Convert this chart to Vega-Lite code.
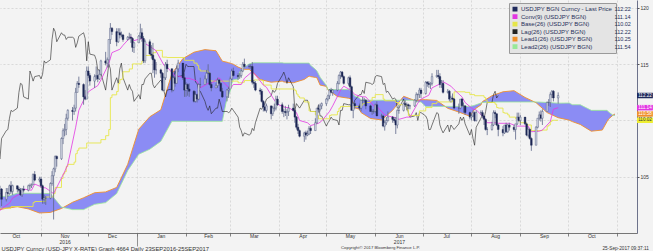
{
"$schema": "https://vega.github.io/schema/vega-lite/v6.json",
"width": 637, "height": 233,
"autosize": {"type": "none"},
"padding": {"left": 0, "top": 0, "right": 16, "bottom": 18},
"background": "#f3f3f3",
"config": {"view": {"stroke": null, "fill": "#f3f3f3"}, "font": "Liberation Sans"},
"title": {"text": "Copyright\u00a9 2017 Bloomberg Finance L.P.", "orient": "bottom", "anchor": "start", "dx": 341, "offset": -5, "fontSize": 4.3, "fontWeight": "normal", "color": "#333333"},
"resolve": {"axis": {"x": "independent"}},
"datasets": {
"px": [
{"d":"2016-10-03","o":101.3,"h":101.9,"l":101.2,"c":101.7,"lg":105.1},
{"d":"2016-10-04","o":101.7,"h":102.9,"l":101.6,"c":102.9,"lg":105.7},
{"d":"2016-10-05","o":102.9,"h":103.6,"l":102.7,"c":103.5,"lg":106.8},
{"d":"2016-10-06","o":103.5,"h":104.2,"l":103.3,"c":103.9,"lg":106.6},
{"d":"2016-10-07","o":103.9,"h":104.0,"l":102.4,"c":103.0,"lg":108.4},
{"d":"2016-10-10","o":103.0,"h":104.0,"l":102.8,"c":103.6,"lg":109.1},
{"d":"2016-10-11","o":103.6,"h":104.0,"l":103.2,"c":103.5,"lg":109.2},
{"d":"2016-10-12","o":103.5,"h":104.3,"l":103.4,"c":104.2,"lg":110.2},
{"d":"2016-10-13","o":104.2,"h":104.6,"l":103.5,"c":103.7,"lg":110.9},
{"d":"2016-10-14","o":103.7,"h":104.3,"l":103.4,"c":104.2,"lg":110.8},
{"d":"2016-10-17","o":104.2,"h":104.2,"l":103.6,"c":103.9,"lg":111.1},
{"d":"2016-10-18","o":103.9,"h":104.1,"l":103.6,"c":103.8,"lg":112.5},
{"d":"2016-10-19","o":103.8,"h":104.0,"l":103.3,"c":103.4,"lg":113.3},
{"d":"2016-10-20","o":103.4,"h":104.0,"l":103.2,"c":103.9,"lg":113.2},
{"d":"2016-10-21","o":103.9,"h":104.2,"l":103.6,"c":103.8,"lg":112.1},
{"d":"2016-10-24","o":103.8,"h":104.3,"l":103.7,"c":104.2,"lg":111.9},
{"d":"2016-10-25","o":104.2,"h":104.4,"l":103.9,"c":104.2,"lg":114.4},
{"d":"2016-10-26","o":104.2,"h":104.4,"l":104.0,"c":104.3,"lg":114.0},
{"d":"2016-10-27","o":104.3,"h":105.3,"l":104.3,"c":105.2,"lg":113.5},
{"d":"2016-10-28","o":105.2,"h":105.5,"l":104.6,"c":104.7,"lg":113.9},
{"d":"2016-10-31","o":104.7,"h":105.0,"l":104.5,"c":104.8,"lg":114.0},
{"d":"2016-11-01","o":104.8,"h":105.0,"l":104.0,"c":104.2,"lg":113.7},
{"d":"2016-11-02","o":104.2,"h":104.3,"l":102.6,"c":103.0,"lg":114.1},
{"d":"2016-11-03","o":103.0,"h":103.4,"l":102.6,"c":103.1,"lg":115.3},
{"d":"2016-11-04","o":103.1,"h":103.3,"l":102.5,"c":103.1,"lg":115.1},
{"d":"2016-11-07","o":103.1,"h":104.5,"l":103.0,"c":104.4,"lg":115.4},
{"d":"2016-11-08","o":104.4,"h":105.5,"l":104.2,"c":105.1,"lg":117.2},
{"d":"2016-11-09","o":105.1,"h":105.8,"l":101.2,"c":105.7,"lg":118.2},
{"d":"2016-11-10","o":105.7,"h":106.9,"l":105.4,"c":106.8,"lg":117.9},
{"d":"2016-11-11","o":106.8,"h":106.9,"l":105.9,"c":106.6,"lg":117.0},
{"d":"2016-11-14","o":106.6,"h":108.5,"l":106.5,"c":108.4,"lg":117.8},
{"d":"2016-11-15","o":108.4,"h":109.3,"l":107.9,"c":109.1,"lg":117.6},
{"d":"2016-11-16","o":109.1,"h":109.7,"l":108.6,"c":109.2,"lg":117.6},
{"d":"2016-11-17","o":109.2,"h":110.6,"l":108.7,"c":110.2,"lg":117.2},
{"d":"2016-11-18","o":110.2,"h":111.0,"l":110.0,"c":110.9,"lg":117.4},
{"d":"2016-11-21","o":110.9,"h":111.2,"l":110.0,"c":110.8,"lg":117.4},
{"d":"2016-11-22","o":110.8,"h":111.4,"l":110.5,"c":111.1,"lg":117.3},
{"d":"2016-11-23","o":111.1,"h":112.9,"l":110.8,"c":112.5,"lg":116.5},
{"d":"2016-11-24","o":112.5,"h":113.5,"l":112.5,"c":113.3,"lg":116.9},
{"d":"2016-11-25","o":113.3,"h":113.9,"l":112.9,"c":113.2,"lg":117.5},
{"d":"2016-11-28","o":113.2,"h":113.3,"l":111.4,"c":112.1,"lg":117.8},
{"d":"2016-11-29","o":112.1,"h":112.7,"l":111.8,"c":111.9,"lg":117.3},
{"d":"2016-11-30","o":111.9,"h":114.8,"l":111.9,"c":114.4,"lg":115.3},
{"d":"2016-12-01","o":114.4,"h":114.8,"l":113.8,"c":114.0,"lg":117.0},
{"d":"2016-12-02","o":114.0,"h":114.2,"l":113.1,"c":113.5,"lg":115.9},
{"d":"2016-12-05","o":113.5,"h":114.1,"l":112.9,"c":113.9,"lg":115.8},
{"d":"2016-12-06","o":113.9,"h":114.8,"l":113.6,"c":114.0,"lg":115.4},
{"d":"2016-12-07","o":114.0,"h":114.5,"l":113.4,"c":113.7,"lg":114.5},
{"d":"2016-12-08","o":113.7,"h":114.5,"l":113.6,"c":114.1,"lg":114.5},
{"d":"2016-12-09","o":114.1,"h":115.4,"l":114.0,"c":115.3,"lg":114.2},
{"d":"2016-12-12","o":115.3,"h":116.1,"l":114.9,"c":115.1,"lg":112.7},
{"d":"2016-12-13","o":115.1,"h":115.6,"l":114.7,"c":115.4,"lg":113.8},
{"d":"2016-12-14","o":115.4,"h":117.2,"l":114.8,"c":117.2,"lg":115.0},
{"d":"2016-12-15","o":117.2,"h":118.66,"l":116.8,"c":118.2,"lg":114.6},
{"d":"2016-12-16","o":118.2,"h":118.3,"l":117.6,"c":117.9,"lg":112.7},
{"d":"2016-12-19","o":117.9,"h":118.2,"l":116.6,"c":117.0,"lg":113.8},
{"d":"2016-12-20","o":117.0,"h":118.2,"l":116.9,"c":117.8,"lg":113.3},
{"d":"2016-12-21","o":117.8,"h":118.2,"l":117.3,"c":117.6,"lg":114.6},
{"d":"2016-12-22","o":117.6,"h":117.9,"l":117.4,"c":117.6,"lg":115.1},
{"d":"2016-12-23","o":117.6,"h":117.7,"l":117.0,"c":117.2,"lg":113.8},
{"d":"2016-12-26","o":117.2,"h":117.5,"l":117.1,"c":117.4,"lg":112.7},
{"d":"2016-12-27","o":117.4,"h":117.8,"l":117.2,"c":117.4,"lg":113.2},
{"d":"2016-12-28","o":117.4,"h":117.7,"l":116.9,"c":117.3,"lg":112.8},
{"d":"2016-12-29","o":117.3,"h":117.4,"l":116.1,"c":116.5,"lg":112.6},
{"d":"2016-12-30","o":116.5,"h":117.0,"l":116.0,"c":116.9,"lg":111.7},
{"d":"2017-01-02","o":116.9,"h":117.6,"l":116.9,"c":117.5,"lg":112.3},
{"d":"2017-01-03","o":117.5,"h":118.6,"l":117.2,"c":117.8,"lg":111.9},
{"d":"2017-01-04","o":117.8,"h":118.2,"l":117.0,"c":117.3,"lg":113.2},
{"d":"2017-01-05","o":117.3,"h":117.5,"l":115.1,"c":115.3,"lg":113.2},
{"d":"2017-01-06","o":115.3,"h":117.2,"l":115.1,"c":117.0,"lg":113.7},
{"d":"2017-01-09","o":117.0,"h":117.2,"l":115.9,"c":115.9,"lg":114.2},
{"d":"2017-01-10","o":115.9,"h":116.7,"l":115.5,"c":115.8,"lg":114.2},
{"d":"2017-01-11","o":115.8,"h":116.9,"l":114.2,"c":115.4,"lg":113.2},
{"d":"2017-01-12","o":115.4,"h":115.5,"l":113.8,"c":114.5,"lg":112.9},
{"d":"2017-01-13","o":114.5,"h":115.2,"l":114.1,"c":114.5,"lg":113.1},
{"d":"2017-01-16","o":114.5,"h":114.6,"l":113.8,"c":114.2,"lg":113.6},
{"d":"2017-01-17","o":114.2,"h":114.3,"l":112.6,"c":112.7,"lg":113.3},
{"d":"2017-01-18","o":112.7,"h":113.9,"l":112.6,"c":113.8,"lg":112.6},
{"d":"2017-01-19","o":113.8,"h":115.2,"l":113.6,"c":115.0,"lg":112.1},
{"d":"2017-01-20","o":115.0,"h":115.4,"l":114.3,"c":114.6,"lg":112.7},
{"d":"2017-01-23","o":114.6,"h":114.6,"l":112.5,"c":112.7,"lg":112.8},
{"d":"2017-01-24","o":112.7,"h":113.9,"l":112.6,"c":113.8,"lg":113.7},
{"d":"2017-01-25","o":113.8,"h":114.0,"l":113.0,"c":113.3,"lg":114.4},
{"d":"2017-01-26","o":113.3,"h":114.9,"l":113.3,"c":114.6,"lg":114.0},
{"d":"2017-01-27","o":114.6,"h":115.4,"l":114.3,"c":115.1,"lg":113.9},
{"d":"2017-01-30","o":115.1,"h":115.1,"l":113.6,"c":113.8,"lg":114.0},
{"d":"2017-01-31","o":113.8,"h":114.2,"l":112.1,"c":112.7,"lg":114.4},
{"d":"2017-02-01","o":112.7,"h":113.4,"l":112.1,"c":113.2,"lg":115.0},
{"d":"2017-02-02","o":113.2,"h":113.3,"l":112.2,"c":112.8,"lg":114.8},
{"d":"2017-02-03","o":112.8,"h":113.3,"l":112.1,"c":112.6,"lg":114.8},
{"d":"2017-02-06","o":112.6,"h":112.7,"l":111.6,"c":111.7,"lg":114.8},
{"d":"2017-02-07","o":111.7,"h":112.6,"l":111.6,"c":112.3,"lg":113.4},
{"d":"2017-02-08","o":112.3,"h":112.4,"l":111.6,"c":111.9,"lg":113.3},
{"d":"2017-02-09","o":111.9,"h":113.3,"l":111.8,"c":113.2,"lg":112.7},
{"d":"2017-02-10","o":113.2,"h":113.8,"l":112.9,"c":113.2,"lg":112.6},
{"d":"2017-02-13","o":113.2,"h":114.0,"l":113.2,"c":113.7,"lg":111.7},
{"d":"2017-02-14","o":113.7,"h":114.5,"l":113.3,"c":114.2,"lg":111.2},
{"d":"2017-02-15","o":114.2,"h":115.0,"l":114.1,"c":114.2,"lg":110.9},
{"d":"2017-02-16","o":114.2,"h":114.3,"l":113.1,"c":113.2,"lg":111.3},
{"d":"2017-02-17","o":113.2,"h":113.4,"l":112.6,"c":112.9,"lg":110.6},
{"d":"2017-02-20","o":112.9,"h":113.3,"l":112.9,"c":113.1,"lg":111.1},
{"d":"2017-02-21","o":113.1,"h":113.8,"l":112.9,"c":113.6,"lg":111.1},
{"d":"2017-02-22","o":113.6,"h":113.7,"l":113.1,"c":113.3,"lg":111.9},
{"d":"2017-02-23","o":113.3,"h":113.4,"l":112.6,"c":112.6,"lg":111.4},
{"d":"2017-02-24","o":112.6,"h":112.9,"l":112.0,"c":112.1,"lg":110.8},
{"d":"2017-02-27","o":112.1,"h":112.8,"l":111.7,"c":112.7,"lg":110.8},
{"d":"2017-02-28","o":112.7,"h":113.0,"l":112.0,"c":112.8,"lg":110.7},
{"d":"2017-03-01","o":112.8,"h":113.9,"l":112.8,"c":113.7,"lg":110.8},
{"d":"2017-03-02","o":113.7,"h":114.6,"l":113.6,"c":114.4,"lg":111.1},
{"d":"2017-03-03","o":114.4,"h":114.7,"l":113.9,"c":114.0,"lg":110.9},
{"d":"2017-03-06","o":114.0,"h":114.2,"l":113.6,"c":113.9,"lg":110.3},
{"d":"2017-03-07","o":113.9,"h":114.2,"l":113.7,"c":114.0,"lg":109.4},
{"d":"2017-03-08","o":114.0,"h":114.5,"l":113.8,"c":114.4,"lg":109.1},
{"d":"2017-03-09","o":114.4,"h":115.2,"l":114.3,"c":115.0,"lg":108.6},
{"d":"2017-03-10","o":115.0,"h":115.5,"l":114.7,"c":114.8,"lg":108.9},
{"d":"2017-03-13","o":114.8,"h":115.0,"l":114.6,"c":114.8,"lg":108.7},
{"d":"2017-03-14","o":114.8,"h":115.0,"l":114.6,"c":114.8,"lg":108.8},
{"d":"2017-03-15","o":114.8,"h":115.2,"l":113.2,"c":113.4,"lg":109.3},
{"d":"2017-03-16","o":113.4,"h":113.6,"l":112.9,"c":113.3,"lg":109.1},
{"d":"2017-03-17","o":113.3,"h":113.5,"l":112.6,"c":112.7,"lg":109.8},
{"d":"2017-03-20","o":112.7,"h":112.9,"l":112.3,"c":112.6,"lg":111.1},
{"d":"2017-03-21","o":112.6,"h":112.8,"l":111.6,"c":111.7,"lg":111.0},
{"d":"2017-03-22","o":111.7,"h":111.8,"l":110.8,"c":111.2,"lg":111.3},
{"d":"2017-03-23","o":111.2,"h":111.6,"l":110.8,"c":110.9,"lg":111.5},
{"d":"2017-03-24","o":110.9,"h":111.5,"l":110.7,"c":111.3,"lg":111.9},
{"d":"2017-03-27","o":111.3,"h":111.3,"l":110.1,"c":110.6,"lg":112.2},
{"d":"2017-03-28","o":110.6,"h":111.3,"l":110.4,"c":111.1,"lg":112.7},
{"d":"2017-03-29","o":111.1,"h":111.5,"l":110.8,"c":111.1,"lg":112.5},
{"d":"2017-03-30","o":111.1,"h":112.2,"l":110.9,"c":111.9,"lg":112.7},
{"d":"2017-03-31","o":111.9,"h":112.2,"l":111.3,"c":111.4,"lg":113.3},
{"d":"2017-04-03","o":111.4,"h":111.6,"l":110.6,"c":110.8,"lg":114.0},
{"d":"2017-04-04","o":110.8,"h":111.0,"l":110.3,"c":110.8,"lg":114.3},
{"d":"2017-04-05","o":110.8,"h":111.3,"l":110.4,"c":110.7,"lg":113.9},
{"d":"2017-04-06","o":110.7,"h":111.0,"l":110.1,"c":110.8,"lg":113.3},
{"d":"2017-04-07","o":110.8,"h":111.4,"l":110.4,"c":111.1,"lg":113.8},
{"d":"2017-04-10","o":111.1,"h":111.5,"l":110.8,"c":110.9,"lg":113.0},
{"d":"2017-04-11","o":110.9,"h":111.0,"l":109.8,"c":110.3,"lg":110.9},
{"d":"2017-04-12","o":110.3,"h":110.4,"l":109.2,"c":109.4,"lg":111.5},
{"d":"2017-04-13","o":109.4,"h":109.7,"l":108.8,"c":109.1,"lg":111.3},
{"d":"2017-04-14","o":109.1,"h":109.2,"l":108.5,"c":108.6,"lg":111.1},
{"d":"2017-04-17","o":108.6,"h":109.0,"l":108.1,"c":108.9,"lg":111.8},
{"d":"2017-04-18","o":108.9,"h":109.1,"l":108.3,"c":108.7,"lg":111.8},
{"d":"2017-04-19","o":108.7,"h":109.1,"l":108.6,"c":108.8,"lg":111.8},
{"d":"2017-04-20","o":108.8,"h":109.5,"l":108.7,"c":109.3,"lg":111.3},
{"d":"2017-04-21","o":109.3,"h":109.5,"l":108.8,"c":109.1,"lg":110.8},
{"d":"2017-04-24","o":109.1,"h":110.2,"l":109.1,"c":109.8,"lg":110.8},
{"d":"2017-04-25","o":109.8,"h":111.1,"l":109.7,"c":111.1,"lg":110.8},
{"d":"2017-04-26","o":111.1,"h":111.4,"l":110.7,"c":111.0,"lg":111.4},
{"d":"2017-04-27","o":111.0,"h":111.5,"l":110.8,"c":111.3,"lg":110.4},
{"d":"2017-04-28","o":111.3,"h":111.6,"l":111.0,"c":111.5,"lg":110.4},
{"d":"2017-05-01","o":111.5,"h":112.0,"l":111.3,"c":111.9,"lg":109.5},
{"d":"2017-05-02","o":111.9,"h":112.3,"l":111.7,"c":112.2,"lg":109.8},
{"d":"2017-05-03","o":112.2,"h":112.8,"l":111.9,"c":112.7,"lg":110.0},
{"d":"2017-05-04","o":112.7,"h":112.9,"l":112.4,"c":112.5,"lg":110.3},
{"d":"2017-05-05","o":112.5,"h":112.8,"l":112.2,"c":112.7,"lg":110.1},
{"d":"2017-05-08","o":112.7,"h":113.5,"l":112.6,"c":113.3,"lg":110.0},
{"d":"2017-05-09","o":113.3,"h":114.1,"l":113.2,"c":114.0,"lg":109.6},
{"d":"2017-05-10","o":114.0,"h":114.4,"l":113.7,"c":114.3,"lg":110.9},
{"d":"2017-05-11","o":114.3,"h":114.4,"l":113.8,"c":113.9,"lg":110.9},
{"d":"2017-05-12","o":113.9,"h":114.0,"l":113.2,"c":113.3,"lg":111.5},
{"d":"2017-05-15","o":113.3,"h":113.9,"l":113.1,"c":113.8,"lg":111.4},
{"d":"2017-05-16","o":113.8,"h":114.0,"l":112.8,"c":113.0,"lg":111.4},
{"d":"2017-05-17","o":113.0,"h":113.1,"l":110.9,"c":110.9,"lg":111.3},
{"d":"2017-05-18","o":110.9,"h":111.6,"l":110.2,"c":111.5,"lg":111.3},
{"d":"2017-05-19","o":111.5,"h":111.7,"l":111.0,"c":111.3,"lg":111.8},
{"d":"2017-05-22","o":111.3,"h":111.5,"l":110.9,"c":111.1,"lg":112.3},
{"d":"2017-05-23","o":111.1,"h":111.8,"l":110.8,"c":111.8,"lg":112.3},
{"d":"2017-05-24","o":111.8,"h":112.1,"l":111.5,"c":111.8,"lg":112.7},
{"d":"2017-05-25","o":111.8,"h":112.0,"l":111.6,"c":111.8,"lg":112.4},
{"d":"2017-05-26","o":111.8,"h":111.9,"l":111.0,"c":111.3,"lg":113.4},
{"d":"2017-05-29","o":111.3,"h":111.4,"l":110.8,"c":110.8,"lg":113.3},
{"d":"2017-05-30","o":110.8,"h":111.0,"l":110.5,"c":110.8,"lg":113.2},
{"d":"2017-05-31","o":110.8,"h":111.0,"l":110.6,"c":110.8,"lg":113.3},
{"d":"2017-06-01","o":110.8,"h":111.5,"l":110.7,"c":111.4,"lg":113.9},
{"d":"2017-06-02","o":111.4,"h":111.7,"l":110.4,"c":110.4,"lg":114.0},
{"d":"2017-06-05","o":110.4,"h":110.6,"l":110.2,"c":110.4,"lg":113.9},
{"d":"2017-06-06","o":110.4,"h":110.5,"l":109.4,"c":109.5,"lg":113.2},
{"d":"2017-06-07","o":109.5,"h":110.0,"l":109.1,"c":109.8,"lg":113.3},
{"d":"2017-06-08","o":109.8,"h":110.3,"l":109.6,"c":110.0,"lg":112.5},
{"d":"2017-06-09","o":110.0,"h":110.8,"l":109.9,"c":110.3,"lg":112.6},
{"d":"2017-06-12","o":110.3,"h":110.4,"l":109.8,"c":110.1,"lg":111.9},
{"d":"2017-06-13","o":110.1,"h":110.3,"l":109.8,"c":110.0,"lg":112.0},
{"d":"2017-06-14","o":110.0,"h":110.3,"l":108.8,"c":109.6,"lg":111.9},
{"d":"2017-06-15","o":109.6,"h":111.0,"l":109.3,"c":110.9,"lg":111.1},
{"d":"2017-06-16","o":110.9,"h":111.4,"l":110.6,"c":110.9,"lg":111.1},
{"d":"2017-06-19","o":110.9,"h":111.6,"l":110.8,"c":111.5,"lg":111.9},
{"d":"2017-06-20","o":111.5,"h":111.8,"l":111.2,"c":111.4,"lg":111.3},
{"d":"2017-06-21","o":111.4,"h":111.6,"l":110.9,"c":111.4,"lg":111.3},
{"d":"2017-06-22","o":111.4,"h":111.5,"l":111.0,"c":111.3,"lg":110.7},
{"d":"2017-06-23","o":111.3,"h":111.4,"l":111.0,"c":111.3,"lg":110.3},
{"d":"2017-06-26","o":111.3,"h":111.9,"l":111.2,"c":111.8,"lg":110.4},
{"d":"2017-06-27","o":111.8,"h":112.5,"l":111.6,"c":112.3,"lg":110.7},
{"d":"2017-06-28","o":112.3,"h":112.4,"l":111.8,"c":112.3,"lg":110.0},
{"d":"2017-06-29","o":112.3,"h":112.9,"l":112.0,"c":112.7,"lg":110.7},
{"d":"2017-06-30","o":112.7,"h":112.9,"l":112.0,"c":112.4,"lg":110.7},
{"d":"2017-07-03","o":112.4,"h":113.5,"l":112.3,"c":113.4,"lg":110.4},
{"d":"2017-07-04","o":113.4,"h":113.5,"l":113.0,"c":113.3,"lg":110.1},
{"d":"2017-07-05","o":113.3,"h":113.5,"l":112.9,"c":113.2,"lg":109.2},
{"d":"2017-07-06","o":113.2,"h":113.4,"l":112.8,"c":113.3,"lg":109.2},
{"d":"2017-07-07","o":113.3,"h":114.2,"l":113.1,"c":113.9,"lg":109.6},
{"d":"2017-07-10","o":113.9,"h":114.5,"l":113.8,"c":114.0,"lg":110.7},
{"d":"2017-07-11","o":114.0,"h":114.5,"l":113.7,"c":113.9,"lg":110.6},
{"d":"2017-07-12","o":113.9,"h":114.2,"l":112.9,"c":113.2,"lg":109.6},
{"d":"2017-07-13","o":113.2,"h":113.6,"l":112.9,"c":113.3,"lg":109.2},
{"d":"2017-07-14","o":113.3,"h":113.6,"l":112.4,"c":112.5,"lg":108.9},
{"d":"2017-07-17","o":112.5,"h":112.8,"l":112.4,"c":112.6,"lg":109.6},
{"d":"2017-07-18","o":112.6,"h":112.7,"l":111.7,"c":111.9,"lg":109.0},
{"d":"2017-07-19","o":111.9,"h":112.2,"l":111.6,"c":112.0,"lg":109.6},
{"d":"2017-07-20","o":112.0,"h":112.4,"l":111.8,"c":111.9,"lg":109.4},
{"d":"2017-07-21","o":111.9,"h":112.0,"l":111.0,"c":111.1,"lg":109.2},
{"d":"2017-07-24","o":111.1,"h":111.5,"l":110.6,"c":111.1,"lg":109.7},
{"d":"2017-07-25","o":111.1,"h":111.9,"l":111.0,"c":111.9,"lg":110.3},
{"d":"2017-07-26","o":111.9,"h":112.0,"l":111.2,"c":111.3,"lg":110.0},
{"d":"2017-07-27","o":111.3,"h":111.6,"l":110.7,"c":111.3,"lg":110.3},
{"d":"2017-07-28","o":111.3,"h":111.3,"l":110.5,"c":110.7,"lg":109.7},
{"d":"2017-07-31","o":110.7,"h":110.8,"l":110.1,"c":110.3,"lg":108.7},
{"d":"2017-08-01","o":110.3,"h":110.6,"l":110.0,"c":110.4,"lg":109.2},
{"d":"2017-08-02","o":110.4,"h":110.9,"l":110.3,"c":110.7,"lg":108.4},
{"d":"2017-08-03","o":110.7,"h":110.8,"l":109.9,"c":110.0,"lg":107.8},
{"d":"2017-08-04","o":110.0,"h":110.9,"l":109.9,"c":110.7,"lg":109.4},
{"d":"2017-08-07","o":110.7,"h":110.9,"l":110.5,"c":110.7,"lg":110.2},
{"d":"2017-08-08","o":110.7,"h":110.9,"l":110.2,"c":110.4,"lg":110.5},
{"d":"2017-08-09","o":110.4,"h":110.4,"l":109.6,"c":110.1,"lg":110.2},
{"d":"2017-08-10","o":110.1,"h":110.2,"l":109.1,"c":109.2,"lg":110.8},
{"d":"2017-08-11","o":109.2,"h":109.4,"l":108.7,"c":109.2,"lg":111.6},
{"d":"2017-08-14","o":109.2,"h":109.9,"l":109.1,"c":109.6,"lg":111.6},
{"d":"2017-08-15","o":109.6,"h":110.9,"l":109.5,"c":110.7,"lg":112.3},
{"d":"2017-08-16","o":110.7,"h":110.9,"l":110.2,"c":110.6,"lg":112.6},
{"d":"2017-08-17","o":110.6,"h":110.6,"l":109.5,"c":109.6,"lg":112.0},
{"d":"2017-08-18","o":109.6,"h":109.7,"l":108.6,"c":109.2,"lg":112.22},
{"d":"2017-08-21","o":109.2,"h":109.5,"l":108.6,"c":108.9},
{"d":"2017-08-22","o":108.9,"h":109.6,"l":108.8,"c":109.6},
{"d":"2017-08-23","o":109.6,"h":109.8,"l":108.9,"c":109.0},
{"d":"2017-08-24","o":109.0,"h":109.7,"l":108.9,"c":109.6},
{"d":"2017-08-25","o":109.6,"h":109.8,"l":109.1,"c":109.4},
{"d":"2017-08-28","o":109.4,"h":109.6,"l":109.0,"c":109.2},
{"d":"2017-08-29","o":109.2,"h":109.7,"l":108.3,"c":109.7},
{"d":"2017-08-30","o":109.7,"h":110.7,"l":109.6,"c":110.3},
{"d":"2017-08-31","o":110.3,"h":110.7,"l":109.9,"c":110.0},
{"d":"2017-09-01","o":110.0,"h":110.5,"l":109.6,"c":110.3},
{"d":"2017-09-04","o":110.3,"h":110.3,"l":109.6,"c":109.7},
{"d":"2017-09-05","o":109.7,"h":109.8,"l":108.6,"c":108.7},
{"d":"2017-09-06","o":108.7,"h":109.4,"l":108.5,"c":109.2},
{"d":"2017-09-07","o":109.2,"h":109.3,"l":108.3,"c":108.4},
{"d":"2017-09-08","o":108.4,"h":108.5,"l":107.3,"c":107.8},
{"d":"2017-09-11","o":107.8,"h":109.5,"l":107.8,"c":109.4},
{"d":"2017-09-12","o":109.4,"h":110.2,"l":109.3,"c":110.2},
{"d":"2017-09-13","o":110.2,"h":110.8,"l":110.0,"c":110.5},
{"d":"2017-09-14","o":110.5,"h":110.9,"l":109.9,"c":110.2},
{"d":"2017-09-15","o":110.2,"h":111.0,"l":109.6,"c":110.8},
{"d":"2017-09-18","o":110.8,"h":111.7,"l":110.8,"c":111.6},
{"d":"2017-09-19","o":111.6,"h":111.9,"l":111.3,"c":111.6},
{"d":"2017-09-20","o":111.6,"h":112.5,"l":111.2,"c":112.3},
{"d":"2017-09-21","o":112.3,"h":112.7,"l":112.0,"c":112.6},
{"d":"2017-09-22","o":112.6,"h":112.7,"l":111.7,"c":112.0},
{"d":"2017-09-25","o":112.0,"h":112.5,"l":111.5,"c":112.22}
],
"conv": [
{"d":"2016-10-05","v":101.85},{"d":"2016-10-07","v":102.15},{"d":"2016-10-12","v":102.65},{"d":"2016-10-14","v":103.1},
{"d":"2016-10-19","v":103.5},{"d":"2016-10-21","v":103.9},{"d":"2016-10-26","v":103.8},{"d":"2016-10-28","v":104.35},
{"d":"2016-11-02","v":104.05},{"d":"2016-11-04","v":104.0},{"d":"2016-11-09","v":103.5},{"d":"2016-11-11","v":104.05},
{"d":"2016-11-16","v":105.45},{"d":"2016-11-18","v":106.1},{"d":"2016-11-23","v":109.4},{"d":"2016-11-25","v":110.9},
{"d":"2016-11-30","v":112.4},{"d":"2016-12-02","v":112.65},{"d":"2016-12-07","v":113.1},{"d":"2016-12-09","v":113.6},
{"d":"2016-12-14","v":115.05},{"d":"2016-12-16","v":116.03},{"d":"2016-12-21","v":116.33},{"d":"2016-12-23","v":116.68},
{"d":"2016-12-28","v":117.45},{"d":"2016-12-30","v":117.1},{"d":"2017-01-04","v":117.3},{"d":"2017-01-06","v":116.85},
{"d":"2017-01-11","v":116.4},{"d":"2017-01-13","v":116.2},{"d":"2017-01-18","v":114.9},{"d":"2017-01-20","v":114.75},
{"d":"2017-01-25","v":113.95},{"d":"2017-01-27","v":113.95},{"d":"2017-02-01","v":113.75},{"d":"2017-02-03","v":113.75},
{"d":"2017-02-08","v":113.5},{"d":"2017-02-10","v":112.9},{"d":"2017-02-15","v":113.3},{"d":"2017-02-17","v":113.3},
{"d":"2017-02-22","v":113.8},{"d":"2017-02-24","v":113.5},{"d":"2017-03-01","v":112.8},{"d":"2017-03-03","v":113.2},
{"d":"2017-03-08","v":113.2},{"d":"2017-03-10","v":113.75},{"d":"2017-03-15","v":114.35},{"d":"2017-03-17","v":114.05},
{"d":"2017-03-22","v":113.15},{"d":"2017-03-24","v":112.95},{"d":"2017-03-29","v":111.8},{"d":"2017-03-31","v":111.45},
{"d":"2017-04-05","v":111.15},{"d":"2017-04-07","v":111.15},{"d":"2017-04-12","v":110.7},{"d":"2017-04-14","v":110.0},
{"d":"2017-04-19","v":109.8},{"d":"2017-04-21","v":109.55},{"d":"2017-04-26","v":109.75},{"d":"2017-04-28","v":109.95},
{"d":"2017-05-03","v":110.8},{"d":"2017-05-05","v":111.3},{"d":"2017-05-10","v":112.7},{"d":"2017-05-12","v":113.05},
{"d":"2017-05-17","v":112.65},{"d":"2017-05-19","v":112.3},{"d":"2017-05-24","v":112.1},{"d":"2017-05-26","v":112.1},
{"d":"2017-05-31","v":111.3},{"d":"2017-06-02","v":111.25},{"d":"2017-06-07","v":110.5},{"d":"2017-06-09","v":110.4},
{"d":"2017-06-14","v":110.25},{"d":"2017-06-16","v":110.1},{"d":"2017-06-21","v":110.3},{"d":"2017-06-23","v":110.3},
{"d":"2017-06-28","v":111.55},{"d":"2017-06-30","v":111.9},{"d":"2017-07-05","v":112.25},{"d":"2017-07-07","v":112.9},
{"d":"2017-07-12","v":113.25},{"d":"2017-07-14","v":113.45},{"d":"2017-07-19","v":113.05},{"d":"2017-07-21","v":112.75},
{"d":"2017-07-26","v":112.1},{"d":"2017-07-28","v":111.6},{"d":"2017-08-02","v":111.0},{"d":"2017-08-04","v":110.95},
{"d":"2017-08-09","v":110.25},{"d":"2017-08-11","v":109.8},{"d":"2017-08-16","v":109.8},{"d":"2017-08-18","v":109.75},
{"d":"2017-08-23","v":109.75},{"d":"2017-08-25","v":109.75},{"d":"2017-08-30","v":109.5},{"d":"2017-09-01","v":109.5},
{"d":"2017-09-06","v":109.5},{"d":"2017-09-08","v":109.0},{"d":"2017-09-13","v":109.05},{"d":"2017-09-15","v":109.15},
{"d":"2017-09-20","v":109.9},{"d":"2017-09-22","v":111.0},{"d":"2017-09-25","v":111.14}
],
"base": [
{"d":"2016-10-03","v":102.2},{"d":"2016-10-13","v":102.35},{"d":"2016-10-27","v":102.7},{"d":"2016-10-28","v":102.8},
{"d":"2016-11-04","v":103.2},{"d":"2016-11-09","v":103.5},{"d":"2016-11-10","v":104.05},{"d":"2016-11-14","v":104.85},
{"d":"2016-11-15","v":105.25},{"d":"2016-11-16","v":105.45},{"d":"2016-11-17","v":105.9},{"d":"2016-11-18","v":106.1},
{"d":"2016-11-22","v":106.3},{"d":"2016-11-23","v":107.05},{"d":"2016-11-24","v":107.35},{"d":"2016-11-25","v":107.55},
{"d":"2016-11-30","v":108.0},{"d":"2016-12-09","v":108.3},{"d":"2016-12-12","v":108.65},{"d":"2016-12-14","v":109.2},
{"d":"2016-12-15","v":112.03},{"d":"2016-12-16","v":112.28},{"d":"2016-12-19","v":112.58},{"d":"2016-12-20","v":113.28},
{"d":"2016-12-21","v":113.63},{"d":"2016-12-22","v":113.68},{"d":"2016-12-23","v":114.33},{"d":"2016-12-27","v":114.58},
{"d":"2016-12-29","v":115.03},{"d":"2017-01-04","v":115.28},{"d":"2017-01-05","v":115.78},{"d":"2017-01-11","v":116.03},
{"d":"2017-01-13","v":116.23},{"d":"2017-01-17","v":115.63},{"d":"2017-01-20","v":115.6},{"d":"2017-01-31","v":115.35},
{"d":"2017-02-06","v":115.1},{"d":"2017-02-08","v":114.9},{"d":"2017-02-09","v":114.55},{"d":"2017-02-10","v":114.4},
{"d":"2017-02-15","v":114.25},{"d":"2017-02-16","v":113.55},{"d":"2017-02-17","v":113.5},{"d":"2017-03-06","v":113.35},
{"d":"2017-03-09","v":113.4},{"d":"2017-03-10","v":113.55},{"d":"2017-03-16","v":113.6},{"d":"2017-03-21","v":113.55},
{"d":"2017-03-22","v":113.15},{"d":"2017-03-27","v":112.8},{"d":"2017-04-11","v":112.65},{"d":"2017-04-12","v":112.35},
{"d":"2017-04-13","v":112.15},{"d":"2017-04-14","v":112.0},{"d":"2017-04-17","v":111.65},{"d":"2017-04-20","v":110.85},
{"d":"2017-04-21","v":110.8},{"d":"2017-04-24","v":110.5},{"d":"2017-04-25","v":110.45},{"d":"2017-04-26","v":110.15},
{"d":"2017-05-03","v":110.45},{"d":"2017-05-04","v":110.5},{"d":"2017-05-08","v":110.8},{"d":"2017-05-09","v":111.1},
{"d":"2017-05-10","v":111.25},{"d":"2017-05-23","v":111.35},{"d":"2017-05-24","v":111.5},{"d":"2017-05-25","v":111.55},
{"d":"2017-05-26","v":111.6},{"d":"2017-05-29","v":111.75},{"d":"2017-05-30","v":112.05},{"d":"2017-06-01","v":112.3},
{"d":"2017-06-06","v":111.9},{"d":"2017-06-07","v":111.75},{"d":"2017-06-14","v":111.6},{"d":"2017-06-16","v":111.4},
{"d":"2017-06-21","v":110.95},{"d":"2017-06-22","v":110.45},{"d":"2017-06-29","v":110.85},{"d":"2017-07-03","v":111.15},
{"d":"2017-07-07","v":111.5},{"d":"2017-07-10","v":111.65},{"d":"2017-07-20","v":111.9},{"d":"2017-07-21","v":112.55},
{"d":"2017-07-28","v":112.5},{"d":"2017-07-31","v":112.3},{"d":"2017-08-03","v":112.2},{"d":"2017-08-09","v":112.05},
{"d":"2017-08-10","v":111.8},{"d":"2017-08-11","v":111.6},{"d":"2017-08-16","v":111.45},{"d":"2017-08-17","v":111.15},
{"d":"2017-08-18","v":111.1},{"d":"2017-08-21","v":110.7},{"d":"2017-08-22","v":110.65},{"d":"2017-08-24","v":110.5},
{"d":"2017-08-25","v":110.3},{"d":"2017-08-29","v":110.15},{"d":"2017-08-31","v":109.95},{"d":"2017-09-01","v":109.8},
{"d":"2017-09-05","v":109.6},{"d":"2017-09-08","v":109.1},{"d":"2017-09-15","v":109.15},{"d":"2017-09-18","v":109.5},
{"d":"2017-09-19","v":109.6},{"d":"2017-09-20","v":109.9},{"d":"2017-09-21","v":110.02},{"d":"2017-09-25","v":110.02}
],
"cloud": [
{"d":"2016-10-03","a":101.99,"b":103.25},{"d":"2016-10-10","a":102.2,"b":103.25},{"d":"2016-10-17","a":102.34,"b":103.53},
{"d":"2016-10-24","a":102.14,"b":103.53},{"d":"2016-10-31","a":101.78,"b":103.53},{"d":"2016-11-07","a":101.83,"b":103.5},
{"d":"2016-11-14","a":102.18,"b":102.3},{"d":"2016-11-21","a":102.73,"b":102.08},{"d":"2016-11-28","a":103.13,"b":102.08},
{"d":"2016-12-05","a":103.58,"b":102.55},{"d":"2016-12-12","a":103.65,"b":102.7},{"d":"2016-12-19","a":104.05,"b":103.5},
{"d":"2016-12-26","a":106.1,"b":105.55},{"d":"2017-01-02","a":109.23,"b":107.0},{"d":"2017-01-09","a":110.33,"b":107.45},
{"d":"2017-01-16","a":110.95,"b":108.15},{"d":"2017-01-23","a":114.16,"b":109.93},{"d":"2017-01-30","a":115.5,"b":109.93},
{"d":"2017-02-06","a":116.07,"b":109.93},{"d":"2017-02-13","a":116.3,"b":109.93},{"d":"2017-02-20","a":116.2,"b":109.93},
{"d":"2017-02-24","a":115.27,"b":109.93},{"d":"2017-02-27","a":115.18,"b":112.03},{"d":"2017-02-28","a":115.13,"b":112.28},
{"d":"2017-03-01","a":115.1,"b":112.58},{"d":"2017-03-02","a":115.05,"b":113.28},{"d":"2017-03-03","a":115.0,"b":113.63},
{"d":"2017-03-06","a":114.75,"b":113.68},{"d":"2017-03-07","a":114.7,"b":114.33},{"d":"2017-03-09","a":114.55,"b":114.58},
{"d":"2017-03-10","a":114.55,"b":114.73},{"d":"2017-03-13","a":114.55,"b":115.03},{"d":"2017-03-16","a":114.2,"b":115.13},
{"d":"2017-03-20","a":113.65,"b":115.13},{"d":"2017-03-27","a":113.4,"b":115.13},{"d":"2017-04-03","a":113.5,"b":115.13},
{"d":"2017-04-04","a":113.43,"b":115.1},{"d":"2017-04-10","a":113.35,"b":115.1},{"d":"2017-04-17","a":113.65,"b":115.1},
{"d":"2017-04-20","a":113.95,"b":115.1},{"d":"2017-04-21","a":113.9,"b":114.9},{"d":"2017-04-24","a":113.83,"b":114.55},
{"d":"2017-04-25","a":113.8,"b":114.4},{"d":"2017-04-27","a":113.15,"b":113.85},{"d":"2017-05-01","a":113.03,"b":113.1},
{"d":"2017-05-02","a":112.73,"b":112.75},{"d":"2017-05-08","a":112.13,"b":112.75},{"d":"2017-05-15","a":111.98,"b":112.75},
{"d":"2017-05-17","a":111.9,"b":112.65},{"d":"2017-05-18","a":111.53,"b":112.35},{"d":"2017-05-19","a":111.13,"b":112.15},
{"d":"2017-05-22","a":111.0,"b":112.0},{"d":"2017-05-23","a":110.7,"b":111.8},{"d":"2017-05-29","a":110.18,"b":111.8},
{"d":"2017-06-05","a":110.05,"b":111.8},{"d":"2017-06-12","a":110.9,"b":111.8},{"d":"2017-06-19","a":112.15,"b":111.8},
{"d":"2017-06-26","a":111.78,"b":111.8},{"d":"2017-06-28","a":111.8,"b":111.65},{"d":"2017-06-30","a":111.85,"b":111.65},
{"d":"2017-07-03","a":111.85,"b":111.25},{"d":"2017-07-10","a":111.78,"b":111.25},{"d":"2017-07-17","a":111.08,"b":111.25},
{"d":"2017-07-24","a":110.75,"b":111.25},{"d":"2017-07-31","a":110.38,"b":111.25},{"d":"2017-08-03","a":111.0,"b":111.35},
{"d":"2017-08-07","a":111.38,"b":111.55},{"d":"2017-08-08","a":111.68,"b":111.6},{"d":"2017-08-14","a":112.2,"b":111.65},
{"d":"2017-08-21","a":112.55,"b":111.65},{"d":"2017-08-28","a":112.65,"b":111.65},{"d":"2017-09-04","a":112.05,"b":111.65},
{"d":"2017-09-11","a":111.58,"b":111.65},{"d":"2017-09-18","a":110.7,"b":111.6},{"d":"2017-09-25","a":110.25,"b":111.54},
{"d":"2017-10-02","a":110.03,"b":111.55},{"d":"2017-10-04","a":109.9,"b":111.4},{"d":"2017-10-09","a":109.65,"b":111.4},
{"d":"2017-10-16","a":109.05,"b":110.9},{"d":"2017-10-23","a":109.15,"b":110.9},{"d":"2017-10-26","a":109.9,"b":110.9},
{"d":"2017-10-27","a":110.13,"b":110.75},{"d":"2017-10-30","a":110.5,"b":110.45},{"d":"2017-10-31","a":110.58,"b":110.45}
],
"tags": [
{"k":"Last","v":112.22},{"k":"Conv","v":111.14},{"k":"Lead1","v":110.58},{"k":"Base","v":110.02}
]
},
"layer": [
{"data": {"name": "cloud"}, "mark": {"type": "area", "clip": true, "color": "#8b8cf4", "opacity": 1},
 "encoding": {
  "x": {"field": "d", "type": "temporal",
   "scale": {"type": "utc", "domain": [{"year":2016,"month":10,"date":6,"utc":true},{"year":2017,"month":11,"date":14,"utc":true}], "padding": 0},
   "axis": {"orient": "bottom",
    "values": [
     {"year":2016,"month":11,"date":1,"utc":true},{"year":2016,"month":12,"date":1,"utc":true},
     {"year":2017,"month":1,"date":1,"utc":true},{"year":2017,"month":2,"date":1,"utc":true},{"year":2017,"month":3,"date":1,"utc":true},
     {"year":2017,"month":4,"date":1,"utc":true},{"year":2017,"month":5,"date":1,"utc":true},{"year":2017,"month":6,"date":1,"utc":true},
     {"year":2017,"month":7,"date":1,"utc":true},{"year":2017,"month":8,"date":1,"utc":true},{"year":2017,"month":9,"date":1,"utc":true},
     {"year":2017,"month":10,"date":1,"utc":true},{"year":2017,"month":11,"date":1,"utc":true}],
    "labels": false, "tickSize": 3, "tickColor": "#666666", "tickWidth": 0.8, "domainColor": "#555555", "domainWidth": 0.8,
    "grid": true, "gridColor": "#c8c8c8", "gridDash": [2,2], "gridWidth": 0.6, "title": null}},
  "y": {"field": "a", "type": "quantitative", "title": "25-Sep-2017 09:37:11", "scale": {"domain": [100, 120.71], "nice": false, "zero": false},
   "axis": {"orient": "right", "values": [105,110,115,120], "labelExpr": "datum.value == 110 ? '' : datum.label",
    "labelFontSize": 5, "labelColor": "#333333", "labelPadding": 1,
    "tickSize": 2, "tickColor": "#555555", "domainColor": "#4a5070", "domainWidth": 0.8,
    "grid": true, "gridColor": "#c8c8c8", "gridDash": [2,2], "gridWidth": 0.6, "labelFlush": false,
    "titleAngle": 0, "titleX": -35, "titleY": 248, "titleAlign": "left", "titleBaseline": "middle",
    "titleFontSize": 4.7, "titleFontWeight": "normal", "titleColor": "#333333"}},
  "y2": {"field": "b"}
 }},
{"data": {"name": "cloud"}, "mark": {"type": "line", "clip": true, "strokeWidth": 0.9},
 "encoding": {
  "x": {"field": "d", "type": "temporal",
   "axis": {"orient": "bottom",
    "values": [
     {"year":2016,"month":10,"date":16,"utc":true},{"year":2016,"month":11,"date":16,"utc":true},{"year":2016,"month":12,"date":16,"utc":true},
     {"year":2017,"month":1,"date":16,"utc":true},{"year":2017,"month":2,"date":15,"utc":true},{"year":2017,"month":3,"date":16,"utc":true},
     {"year":2017,"month":4,"date":16,"utc":true},{"year":2017,"month":5,"date":16,"utc":true},{"year":2017,"month":6,"date":16,"utc":true},
     {"year":2017,"month":7,"date":16,"utc":true},{"year":2017,"month":8,"date":16,"utc":true},{"year":2017,"month":9,"date":16,"utc":true},
     {"year":2017,"month":10,"date":16,"utc":true}],
    "labelExpr": "utcFormat(datum.value,'%b %Y') == 'Nov 2016' ? ['Nov','2016'] : (utcFormat(datum.value,'%b %Y') == 'Jun 2017' ? ['Jun','2017'] : utcFormat(datum.value,'%b'))",
    "ticks": false, "tickSize": 0, "domain": false, "grid": false,
    "labelFontSize": 5, "labelColor": "#333333", "labelPadding": 0, "labelLineHeight": 6.5,
    "labelOverlap": false, "labelFlush": false, "labelBound": false,
    "title": "USDJPY Curncy (USD-JPY X-RATE) Graph 4664  Daily 23SEP2016-25SEP2017",
    "titleX": 1, "titleY": 15, "titleAlign": "left", "titleAnchor": "start", "titleBaseline": "middle",
    "titleFontSize": 5.8, "titleFontWeight": "normal", "titleColor": "#333333"}},
  "y": {"field": "a", "type": "quantitative", "title": "25-Sep-2017 09:37:11"},
  "color": {"datum": "Lead1(26) (USDJPY BGN)", "type": "nominal"}}},
{"data": {"name": "cloud"}, "mark": {"type": "line", "clip": true, "strokeWidth": 0.9},
 "encoding": {
  "x": {"field": "d", "type": "temporal",
   "axis": {"orient": "bottom", "values": [{"year":2017,"month":1,"date":1,"utc":true}], "labels": false,
    "tickSize": 13, "tickColor": "#777777", "tickWidth": 0.8, "domain": false, "grid": false, "title": null}},
  "y": {"field": "b", "type": "quantitative", "title": "25-Sep-2017 09:37:11"},
  "color": {"datum": "Lead2(26) (USDJPY BGN)", "type": "nominal"},
  "strokeDash": {"datum": "6", "type": "nominal",
   "scale": {"domain": ["1","2","3","4","5","6"], "range": [[1,0],[1,0],[1,0],[1,0],[1,0],[1,0]]},
   "legend": {"title": null, "orient": "none", "legendX": 604, "legendY": 3, "padding": 3, "zindex": 2,
    "symbolSize": 6, "symbolStrokeWidth": 2.5, "symbolType": "square", "symbolOpacity": 0,
    "labelFontSize": 5.5, "labelColor": "#27305a", "labelOffset": 2, "rowPadding": 0.5, "clipHeight": 6.3,
    "labelExpr": "['112.22','111.14','110.02','112.22','110.25','111.54'][toNumber(datum.label)-1]"}}}},
{"data": {"name": "px"}, "mark": {"type": "line", "clip": true, "strokeWidth": 0.6},
 "encoding": {"x": {"field": "d", "type": "temporal", "axis": null},
  "y": {"field": "lg", "type": "quantitative", "title": "25-Sep-2017 09:37:11"},
  "color": {"datum": "Lag(26) (USDJPY BGN)", "type": "nominal"}}},
{"data": {"name": "base"}, "mark": {"type": "line", "clip": true, "strokeWidth": 0.9, "interpolate": "step-after"},
 "encoding": {"x": {"field": "d", "type": "temporal", "axis": null},
  "y": {"field": "v", "type": "quantitative", "title": "25-Sep-2017 09:37:11"},
  "color": {"datum": "Base(26) (USDJPY BGN)", "type": "nominal"}}},
{"data": {"name": "conv"}, "mark": {"type": "line", "clip": true, "strokeWidth": 0.8},
 "encoding": {"x": {"field": "d", "type": "temporal", "axis": null},
  "y": {"field": "v", "type": "quantitative", "title": "25-Sep-2017 09:37:11"},
  "color": {"datum": "Conv(9) (USDJPY BGN)", "type": "nominal",
   "scale": {"domain": ["USDJPY BGN Curncy - Last Price","Conv(9) (USDJPY BGN)","Base(26) (USDJPY BGN)","Lag(26) (USDJPY BGN)","Lead1(26) (USDJPY BGN)","Lead2(26) (USDJPY BGN)"],
    "range": ["#1f2a5c","#e236e2","#e6e64a","#222222","#f0902a","#98e898"]},
   "legend": {"title": null, "orient": "none", "legendX": 509, "legendY": 3, "padding": 3, "zindex": 1,
    "fillColor": "#e4e4e4", "strokeColor": "#9a9a9a", "cornerRadius": 0,
    "symbolType": "square", "symbolSize": 6, "symbolStrokeWidth": 2.5,
    "labelFontSize": 6, "labelColor": "#27305a", "labelOffset": 3, "rowPadding": 0.5, "clipHeight": 6.3,
    "labelExpr": "datum.label + '              '"}}}},
{"data": {"name": "px"}, "mark": {"type": "rule", "clip": true, "strokeWidth": 0.8, "color": "#5d6688"},
 "encoding": {"x": {"field": "d", "type": "temporal", "axis": null},
  "y": {"field": "l", "type": "quantitative", "title": "25-Sep-2017 09:37:11"}, "y2": {"field": "h"}}},
{"data": {"name": "px"}, "mark": {"type": "bar", "clip": true, "size": 1.7, "strokeWidth": 0.4},
 "encoding": {"x": {"field": "d", "type": "temporal", "axis": null},
  "y": {"field": "o", "type": "quantitative", "title": "25-Sep-2017 09:37:11"}, "y2": {"field": "c"},
  "fill": {"condition": {"test": "datum.c >= datum.o", "value": "#d3d8e4"}, "value": "#1b2553"},
  "stroke": {"condition": {"test": "datum.c >= datum.o", "value": "#4a5478"}, "value": "#1b2553"}}},
{"data": {"name": "tags"}, "mark": {"type": "point", "shape": "M0,-1H5.8V1H0Z", "size": 30, "filled": true, "opacity": 1, "strokeWidth": 0},
 "encoding": {"x": {"value": "width"}, "y": {"field": "v", "type": "quantitative", "title": "25-Sep-2017 09:37:11"},
  "fill": {"field": "k", "type": "nominal", "scale": {"domain": ["Last","Conv","Lead1","Base"], "range": ["#1f2a5c","#e236e2","#f0902a","#eeee30"]}, "legend": null}}},
{"data": {"name": "tags"}, "mark": {"type": "text", "align": "center", "baseline": "middle", "dx": 8, "fontSize": 4.6},
 "encoding": {"x": {"value": "width"}, "y": {"field": "v", "type": "quantitative", "title": "25-Sep-2017 09:37:11"},
  "text": {"field": "v", "type": "quantitative", "format": ".2f"},
  "color": {"condition": {"test": "datum.k == 'Base'", "value": "#333333"}, "value": "#ffffff"}}}
]
}
